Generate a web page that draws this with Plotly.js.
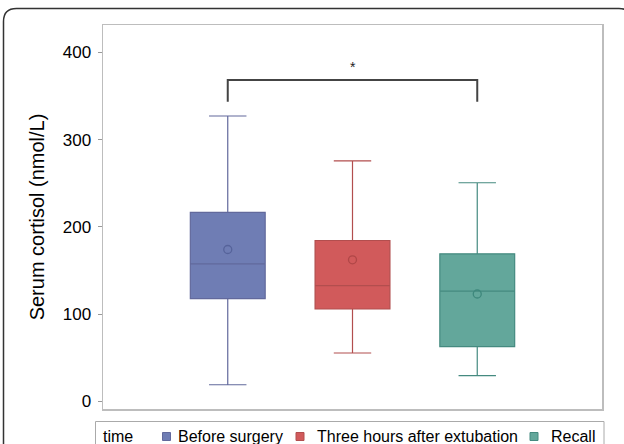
<!DOCTYPE html>
<html>
<head>
<meta charset="utf-8">
<script src="https://cdn.plot.ly/plotly-3.0.1.min.js"></script>
<style>html,body{margin:0;padding:0;background:#fff;}#chart{width:624px;height:444px;}</style>
</head>
<body>
<div id="chart"></div>
<script>
// ---- data ----
const categories = ['Before surgery', 'Three hours after extubation', 'Recall'];
const upperWhisker = [327, 275.5, 250.5];
const q3Values = [216.5, 184.3, 169];
const medianValues = [157.5, 132.5, 126.4];
const q1Values = [117.6, 105.8, 62.6];
const lowerWhisker = [19, 55.4, 29.4];
const meanValues = [174, 162.2, 123];
const yTicks = [0, 100, 200, 300, 400];
const yTitle = 'Serum cortisol (nmol/L)';
const legendTitle = 'time';
const sigPair = [0, 2];
const sigBracketY = [368.3, 343.4]; // top, bottom of bracket
const sigLabel = '*';
const sigLabelY = 383;

// ---- styles ----
const fills = ['#6f7db4', '#d15a5b', '#63a79b'];
const lines = ['#62699c', '#b24e4e', '#458a80'];
const meanColors = ['#56639a', '#b04747', '#3e887c'];
const FONT = 'Liberation Sans, Arial, sans-serif';

const W = 624, H = 444;
const M = {l: 103, r: 22, t: 25, b: 35};
const PW = W - M.l - M.r, PH = H - M.t - M.b;
const px = x => (x - M.l) / PW;
const py = y => (H - M.b - y) / PH;

const xs = categories.map((c, i) => i);
const traces = categories.map((c, i) => ({
  type: 'box',
  name: c,
  x: [xs[i]],
  q1: [q1Values[i]],
  median: [medianValues[i]],
  q3: [q3Values[i]],
  lowerfence: [lowerWhisker[i]],
  upperfence: [upperWhisker[i]],
  width: 0.6,
  whiskerwidth: 0.5,
  fillcolor: fills[i],
  line: {color: lines[i], width: 1.2},
  boxpoints: false,
  showlegend: false,
  hoverinfo: 'y'
}));
traces.push({
  type: 'scatter',
  mode: 'markers',
  x: xs,
  y: meanValues,
  marker: {symbol: 'circle-open', size: 8, color: meanColors, line: {width: 1.3}},
  showlegend: false,
  hoverinfo: 'y'
});

// outer rounded frame (pixel -> paper)
function roundRect(x0, y0, x1, y1, r) {
  const P = (x, y) => px(x) + ',' + py(y);
  return 'M' + P(x0 + r, y0) + ' L' + P(x1 - r, y0) + ' Q' + P(x1, y0) + ' ' + P(x1, y0 + r) +
    ' L' + P(x1, y1 - r) + ' Q' + P(x1, y1) + ' ' + P(x1 - r, y1) +
    ' L' + P(x0 + r, y1) + ' Q' + P(x0, y1) + ' ' + P(x0, y1 - r) +
    ' L' + P(x0, y0 + r) + ' Q' + P(x0, y0) + ' ' + P(x0 + r, y0) + ' Z';
}

const shapes = [
  {type: 'path', xref: 'paper', yref: 'paper', path: roundRect(3.5, 8.5, 632, 470, 13),
   line: {color: '#333', width: 1.5}, layer: 'below'},
  {type: 'path', xref: 'x', yref: 'y',
   path: 'M' + sigPair[0] + ',' + sigBracketY[1] + ' L' + sigPair[0] + ',' + sigBracketY[0] +
         ' L' + sigPair[1] + ',' + sigBracketY[0] + ' L' + sigPair[1] + ',' + sigBracketY[1],
   line: {color: '#444', width: 2}},
  // legend box
  {type: 'rect', xref: 'paper', yref: 'paper', x0: px(95.5), x1: px(604), y0: py(460), y1: py(421.5),
   line: {color: '#aaa', width: 1}, fillcolor: 'rgba(0,0,0,0)'}
];

const legendSquareX = [166.5, 300, 534];
const legendTextX = [177, 316, 550];
const legendY = 436.5;
const annotations = [
  {xref: 'x', yref: 'y', x: (sigPair[0] + sigPair[1]) / 2, y: sigLabelY, text: sigLabel, showarrow: false,
   font: {family: FONT, size: 14, color: '#222'}},
  {xref: 'paper', yref: 'paper', x: px(100.5), y: py(legendY), xanchor: 'left', yanchor: 'middle',
   text: legendTitle, showarrow: false, font: {family: FONT, size: 16, color: '#000'}}
];
categories.forEach((c, i) => {
  shapes.push({type: 'rect', xref: 'paper', yref: 'paper',
    x0: px(legendSquareX[i] - 4), x1: px(legendSquareX[i] + 4), y0: py(legendY + 4), y1: py(legendY - 4),
    fillcolor: fills[i], line: {color: lines[i], width: 1}});
  annotations.push({xref: 'paper', yref: 'paper', x: px(legendTextX[i] - 1), y: py(legendY), xanchor: 'left', yanchor: 'middle',
    text: c, showarrow: false, font: {family: FONT, size: 16, color: '#000'}});
});

const layout = {
  width: W, height: H,
  margin: M,
  paper_bgcolor: '#fff', plot_bgcolor: '#fff',
  showlegend: false,
  xaxis: {range: [-1, 3], showticklabels: false, ticks: '', showgrid: false, zeroline: false,
          showline: true, mirror: true, linecolor: '#bdbdbd', linewidth: 1.5, fixedrange: true},
  yaxis: {range: [-8.8, 431.3], tickvals: yTicks, ticktext: yTicks.map(String), ticks: 'outside', ticklen: 4,
          tickcolor: '#999', showgrid: false, zeroline: false, showline: true, mirror: true,
          linecolor: '#bdbdbd', linewidth: 1.5, ticklabelstandoff: 3,
          tickfont: {family: FONT, size: 17, color: '#000'},
          title: {text: yTitle, standoff: 12, font: {family: FONT, size: 20, color: '#000'}}},
  shapes: shapes,
  annotations: annotations
};

Plotly.newPlot('chart', traces, layout, {displayModeBar: false, staticPlot: true});
</script>
</body>
</html>
